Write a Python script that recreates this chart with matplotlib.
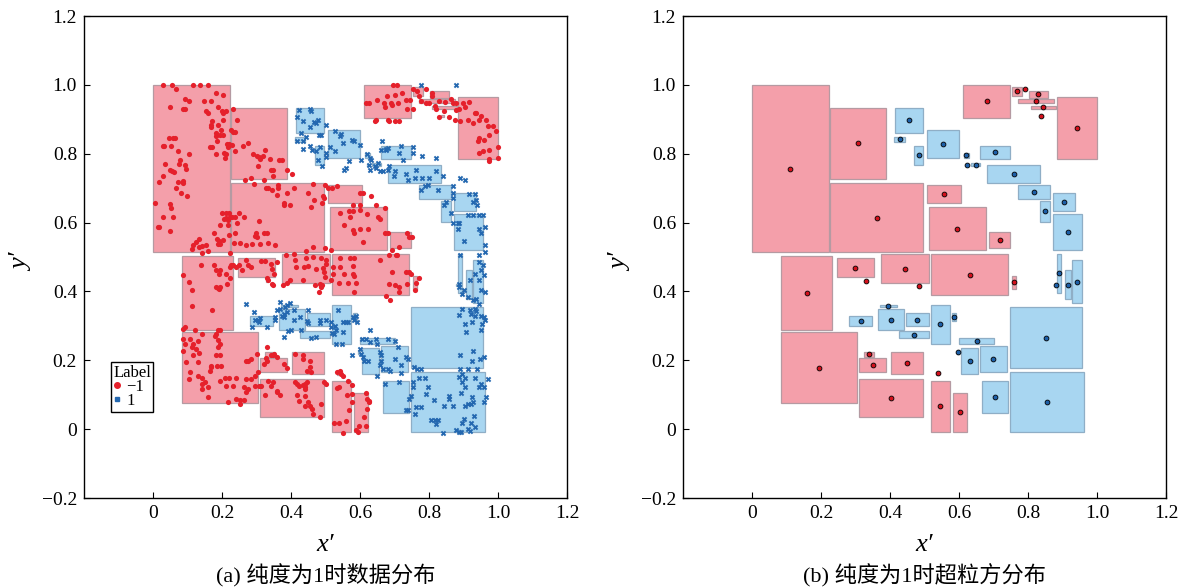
import numpy as np
import matplotlib.pyplot as plt
from matplotlib.patches import Rectangle
from matplotlib.lines import Line2D

plt.rcParams['font.family'] = ['Liberation Serif', 'Noto Sans CJK SC']
plt.rcParams['mathtext.fontset'] = 'stix'

# granular-ball boxes (x0, y0, x1, y1), label -1
neg_boxes = [
    (0.000, 0.514, 0.222, 1.000), (0.227, 0.728, 0.388, 0.934), (0.227, 0.514, 0.496, 0.715),
    (0.507, 0.657, 0.607, 0.709), (0.513, 0.520, 0.678, 0.644), (0.688, 0.525, 0.749, 0.573),
    (0.612, 0.905, 0.748, 1.000), (0.755, 0.969, 0.782, 0.993), (0.787, 0.984, 0.793, 0.990),
    (0.803, 0.963, 0.857, 0.982), (0.771, 0.947, 0.874, 0.958), (0.809, 0.930, 0.880, 0.940),
    (0.834, 0.907, 0.844, 0.913), (0.885, 0.786, 1.000, 0.964), (0.085, 0.289, 0.233, 0.502),
    (0.245, 0.442, 0.354, 0.496), (0.328, 0.428, 0.334, 0.434), (0.375, 0.425, 0.512, 0.508),
    (0.480, 0.413, 0.486, 0.419), (0.518, 0.390, 0.743, 0.508), (0.754, 0.408, 0.765, 0.444),
    (0.085, 0.075, 0.304, 0.283), (0.326, 0.211, 0.354, 0.224), (0.311, 0.166, 0.388, 0.207),
    (0.403, 0.159, 0.497, 0.224), (0.311, 0.034, 0.497, 0.147), (0.534, 0.158, 0.542, 0.166),
    (0.518, -0.007, 0.573, 0.141), (0.583, -0.007, 0.623, 0.105),
]

# granular-ball boxes, label 1
pos_boxes = [
    (0.414, 0.860, 0.497, 0.934), (0.413, 0.834, 0.442, 0.850), (0.469, 0.768, 0.497, 0.822),
    (0.507, 0.787, 0.601, 0.868), (0.614, 0.788, 0.628, 0.803), (0.619, 0.765, 0.625, 0.771),
    (0.635, 0.763, 0.661, 0.774), (0.661, 0.786, 0.749, 0.822), (0.682, 0.715, 0.836, 0.768),
    (0.771, 0.668, 0.864, 0.709), (0.835, 0.602, 0.864, 0.663), (0.873, 0.633, 0.935, 0.685),
    (0.873, 0.519, 0.957, 0.626), (0.370, 0.355, 0.419, 0.360), (0.282, 0.301, 0.349, 0.330),
    (0.364, 0.289, 0.441, 0.348), (0.446, 0.300, 0.512, 0.336), (0.425, 0.265, 0.512, 0.284),
    (0.518, 0.248, 0.573, 0.360), (0.579, 0.315, 0.590, 0.336), (0.601, 0.248, 0.701, 0.265),
    (0.594, 0.218, 0.600, 0.230), (0.606, 0.159, 0.655, 0.236), (0.661, 0.165, 0.738, 0.242),
    (0.667, 0.046, 0.743, 0.140), (0.749, 0.177, 0.957, 0.354), (0.749, -0.007, 0.962, 0.165),
    (0.885, 0.396, 0.897, 0.509), (0.877, 0.417, 0.883, 0.423), (0.907, 0.377, 0.924, 0.461),
    (0.928, 0.365, 0.957, 0.490),
]

# samples with label -1
neg_points = [
    (0.030, 1.0), (0.056, 1.0), (0.116, 1.0), (0.136, 1.0), (0.159, 1.0), (0.066, 0.989),
    (0.182, 0.977), (0.204, 0.970), (0.094, 0.959), (0.105, 0.953), (0.149, 0.954), (0.167, 0.953),
    (0.050, 0.936), (0.087, 0.930), (0.094, 0.930), (0.188, 0.935), (0.154, 0.923), (0.159, 0.917),
    (0.199, 0.924), (0.213, 0.924), (0.203, 0.919), (0.231, 0.930), (0.243, 0.899), (0.171, 0.894),
    (0.167, 0.883), (0.188, 0.883), (0.204, 0.899), (0.169, 0.878), (0.198, 0.870), (0.184, 0.860),
    (0.194, 0.853), (0.225, 0.870), (0.231, 0.864), (0.237, 0.863), (0.203, 0.855), (0.182, 0.851),
    (0.186, 0.836), (0.045, 0.847), (0.059, 0.847), (0.065, 0.847), (0.028, 0.823), (0.033, 0.823),
    (0.051, 0.823), (0.165, 0.819), (0.172, 0.819), (0.214, 0.829), (0.221, 0.829), (0.229, 0.826),
    (0.217, 0.819), (0.274, 0.831), (0.260, 0.823), (0.325, 0.812), (0.072, 0.807), (0.105, 0.800),
    (0.184, 0.800), (0.205, 0.802), (0.213, 0.800), (0.210, 0.787), (0.237, 0.807), (0.291, 0.799),
    (0.301, 0.794), (0.307, 0.790), (0.319, 0.794), (0.309, 0.784), (0.340, 0.786), (0.364, 0.783),
    (0.375, 0.783), (0.078, 0.783), (0.094, 0.768), (0.075, 0.771), (0.035, 0.771), (0.095, 0.755),
    (0.050, 0.753), (0.055, 0.749), (0.062, 0.746), (0.028, 0.736), (0.305, 0.763), (0.341, 0.753),
    (0.348, 0.753), (0.389, 0.753), (0.402, 0.741), (0.347, 0.734), (0.267, 0.724), (0.283, 0.729),
    (0.321, 0.724), (0.016, 0.718), (0.072, 0.718), (0.087, 0.721), (0.087, 0.715), (0.066, 0.700),
    (0.082, 0.687), (0.100, 0.676), (0.006, 0.658), (0.293, 0.712), (0.328, 0.700), (0.333, 0.700),
    (0.346, 0.695), (0.363, 0.710), (0.363, 0.700), (0.408, 0.700), (0.359, 0.680), (0.388, 0.687),
    (0.463, 0.712), (0.450, 0.687), (0.498, 0.710), (0.508, 0.700), (0.520, 0.700), (0.532, 0.705),
    (0.493, 0.678), (0.495, 0.672), (0.467, 0.666), (0.379, 0.658), (0.379, 0.651), (0.397, 0.651),
    (0.457, 0.646), (0.489, 0.658), (0.048, 0.653), (0.053, 0.643), (0.029, 0.617), (0.057, 0.617),
    (0.199, 0.627), (0.213, 0.627), (0.220, 0.627), (0.249, 0.627), (0.239, 0.617), (0.205, 0.610),
    (0.213, 0.613), (0.217, 0.608), (0.223, 0.617), (0.229, 0.617), (0.265, 0.617), (0.194, 0.593),
    (0.216, 0.593), (0.244, 0.600), (0.307, 0.606), (0.014, 0.588), (0.018, 0.588), (0.050, 0.575),
    (0.298, 0.569), (0.321, 0.571), (0.331, 0.571), (0.295, 0.561), (0.302, 0.559), (0.220, 0.564),
    (0.237, 0.571), (0.176, 0.569), (0.186, 0.551), (0.191, 0.547), (0.188, 0.537), (0.194, 0.537),
    (0.203, 0.549), (0.132, 0.551), (0.126, 0.543), (0.116, 0.535), (0.134, 0.530), (0.141, 0.532),
    (0.155, 0.535), (0.142, 0.512), (0.158, 0.517), (0.235, 0.542), (0.252, 0.540), (0.271, 0.535),
    (0.288, 0.538), (0.311, 0.537), (0.334, 0.540), (0.353, 0.535), (0.463, 0.528), (0.443, 0.517),
    (0.385, 0.506), (0.409, 0.510), (0.112, 0.523), (0.223, 0.512), (0.499, 0.525), (0.517, 0.520),
    # upper right
    (0.695, 1.0), (0.708, 1.0), (0.678, 0.967), (0.700, 0.972), (0.721, 0.977), (0.648, 0.955),
    (0.616, 0.948), (0.626, 0.948), (0.669, 0.948), (0.689, 0.948), (0.732, 0.955), (0.746, 0.955),
    (0.672, 0.935), (0.692, 0.941), (0.711, 0.948), (0.737, 0.930), (0.753, 0.930), (0.647, 0.899),
    (0.642, 0.894), (0.681, 0.897), (0.685, 0.894), (0.700, 0.894), (0.712, 0.896),
    (0.753, 0.989), (0.765, 0.982), (0.772, 0.967), (0.792, 0.987), (0.808, 0.977), (0.809, 0.967),
    (0.777, 0.953), (0.792, 0.946), (0.801, 0.948), (0.816, 0.940), (0.830, 0.953), (0.864, 0.959),
    (0.869, 0.948), (0.878, 0.946), (0.845, 0.950), (0.821, 0.930), (0.842, 0.923), (0.878, 0.928),
    (0.888, 0.930), (0.830, 0.907), (0.859, 0.907), (0.874, 0.899), (0.891, 0.894),
    (0.898, 0.948), (0.915, 0.950), (0.903, 0.936), (0.932, 0.919), (0.936, 0.919), (0.951, 0.909),
    (0.912, 0.899), (0.946, 0.899), (0.927, 0.889), (0.965, 0.899), (0.970, 0.880), (0.985, 0.880),
    (0.994, 0.865), (0.975, 0.855), (0.944, 0.846), (0.942, 0.836), (0.959, 0.841), (0.973, 0.812),
    (0.956, 0.807), (0.944, 0.802), (0.973, 0.784), (0.973, 0.778), (1.0, 0.787), (1.0, 0.821),
    # middle right
    (0.599, 0.687), (0.608, 0.687), (0.632, 0.676), (0.581, 0.651), (0.599, 0.651), (0.647, 0.651),
    (0.672, 0.642), (0.567, 0.635), (0.581, 0.635), (0.601, 0.637), (0.620, 0.625), (0.543, 0.627),
    (0.570, 0.617), (0.652, 0.615), (0.657, 0.610), (0.555, 0.593), (0.599, 0.580), (0.623, 0.580),
    (0.584, 0.571), (0.581, 0.578), (0.673, 0.569), (0.682, 0.571), (0.610, 0.544), (0.737, 0.569),
    (0.743, 0.557), (0.751, 0.557), (0.714, 0.530), (0.692, 0.520), (0.707, 0.506),
    # lower left
    (0.139, 0.476), (0.176, 0.476), (0.182, 0.463), (0.194, 0.463), (0.223, 0.471), (0.227, 0.476),
    (0.192, 0.452), (0.213, 0.452), (0.224, 0.440), (0.087, 0.447), (0.105, 0.427), (0.182, 0.413),
    (0.189, 0.411), (0.192, 0.408), (0.194, 0.413), (0.215, 0.423), (0.114, 0.403), (0.112, 0.359),
    (0.170, 0.347), (0.087, 0.291), (0.092, 0.296), (0.121, 0.287), (0.187, 0.287), (0.194, 0.287),
    (0.182, 0.277),
    (0.271, 0.491), (0.314, 0.489), (0.324, 0.489), (0.249, 0.476), (0.274, 0.476), (0.283, 0.471),
    (0.257, 0.463), (0.341, 0.481), (0.358, 0.486), (0.346, 0.466), (0.351, 0.452), (0.331, 0.440),
    (0.334, 0.432), (0.345, 0.423), (0.348, 0.418), (0.242, 0.471), (0.232, 0.476),
    (0.443, 0.496), (0.464, 0.500), (0.488, 0.496), (0.500, 0.491), (0.502, 0.481), (0.411, 0.491),
    (0.414, 0.471), (0.438, 0.471), (0.449, 0.473), (0.473, 0.466), (0.493, 0.469), (0.496, 0.457),
    (0.498, 0.442), (0.483, 0.423), (0.491, 0.418), (0.396, 0.434), (0.435, 0.434), (0.486, 0.413),
    (0.469, 0.418), (0.480, 0.398), (0.377, 0.418), (0.387, 0.425), (0.522, 0.471), (0.522, 0.452),
    (0.517, 0.432),
    (0.087, 0.262), (0.107, 0.262), (0.092, 0.248), (0.116, 0.248), (0.131, 0.257), (0.143, 0.275),
    (0.112, 0.238), (0.126, 0.233), (0.179, 0.272), (0.189, 0.259), (0.194, 0.248), (0.187, 0.238),
    (0.116, 0.214), (0.134, 0.220), (0.184, 0.214), (0.097, 0.194), (0.131, 0.194), (0.169, 0.184),
    (0.169, 0.180), (0.186, 0.182), (0.198, 0.182), (0.165, 0.170), (0.107, 0.165), (0.131, 0.155),
    (0.143, 0.150), (0.150, 0.136), (0.160, 0.121), (0.160, 0.092), (0.141, 0.131), (0.208, 0.150),
    (0.221, 0.150), (0.194, 0.141), (0.232, 0.126), (0.242, 0.150), (0.213, 0.126), (0.271, 0.199),
    (0.276, 0.199), (0.285, 0.204), (0.300, 0.218), (0.305, 0.165), (0.295, 0.155), (0.285, 0.146),
    (0.271, 0.146), (0.263, 0.121), (0.276, 0.116), (0.295, 0.126), (0.307, 0.126), (0.312, 0.126),
    (0.271, 0.107), (0.242, 0.087), (0.252, 0.084), (0.263, 0.084), (0.253, 0.073), (0.218, 0.080),
    (0.143, 0.116), (0.105, 0.146), (0.087, 0.228), (0.194, 0.214),
    (0.331, 0.238), (0.341, 0.214), (0.351, 0.218), (0.358, 0.209), (0.327, 0.207), (0.321, 0.189),
    (0.329, 0.199), (0.379, 0.189), (0.387, 0.177), (0.348, 0.214),
    (0.413, 0.218), (0.435, 0.214), (0.435, 0.204), (0.456, 0.197), (0.456, 0.180), (0.457, 0.165),
    (0.445, 0.168),
    (0.332, 0.141), (0.348, 0.136), (0.343, 0.126), (0.324, 0.099), (0.358, 0.112), (0.367, 0.099),
    (0.411, 0.136), (0.416, 0.131), (0.423, 0.126), (0.435, 0.129), (0.440, 0.131), (0.440, 0.121),
    (0.445, 0.136), (0.442, 0.116), (0.416, 0.099), (0.423, 0.082), (0.449, 0.080), (0.440, 0.068),
    (0.454, 0.068), (0.461, 0.058), (0.464, 0.045), (0.483, 0.034), (0.486, 0.073), (0.496, 0.136),
    (0.500, 0.131), (0.358, 0.107), (0.440, 0.097),
    # lower middle
    (0.541, 0.498), (0.570, 0.498), (0.584, 0.498), (0.541, 0.471), (0.581, 0.473), (0.581, 0.450),
    (0.584, 0.444), (0.555, 0.452), (0.539, 0.425), (0.565, 0.425), (0.587, 0.425), (0.584, 0.398),
    (0.657, 0.491), (0.685, 0.505), (0.705, 0.505), (0.693, 0.457), (0.685, 0.423), (0.700, 0.418),
    (0.714, 0.413), (0.714, 0.398), (0.736, 0.423), (0.732, 0.457), (0.743, 0.457), (0.748, 0.452),
    (0.758, 0.403), (0.763, 0.425), (0.770, 0.440), (0.676, 0.386), (0.688, 0.374),
    (0.541, 0.170), (0.533, 0.165), (0.544, 0.160), (0.550, 0.155), (0.565, 0.139), (0.577, 0.129),
    (0.539, 0.123), (0.533, 0.119), (0.562, 0.100), (0.577, 0.078), (0.568, 0.055), (0.560, 0.024),
    (0.539, 0.019), (0.526, 0.019), (0.550, -0.010), (0.577, 0.102),
    (0.616, 0.104), (0.620, 0.087), (0.626, 0.082), (0.620, 0.058), (0.613, 0.034), (0.596, 0.010),
    (0.616, 0.010), (0.589, -0.003), (0.594, -0.008), (0.626, 0.078),
]

# samples with label 1
pos_points = [
    (0.777, 1.0), (0.877, 1.0),
    (0.423, 0.926), (0.456, 0.930), (0.457, 0.923), (0.417, 0.907), (0.435, 0.894), (0.467, 0.892),
    (0.478, 0.899), (0.471, 0.889), (0.456, 0.877), (0.500, 0.883), (0.428, 0.860), (0.444, 0.848),
    (0.481, 0.853), (0.488, 0.853), (0.417, 0.836), (0.436, 0.836), (0.434, 0.814), (0.456, 0.823),
    (0.461, 0.812), (0.483, 0.819), (0.473, 0.807), (0.500, 0.802), (0.500, 0.790), (0.478, 0.783),
    (0.490, 0.765),
    (0.528, 0.865), (0.541, 0.851), (0.546, 0.858), (0.550, 0.831), (0.512, 0.819), (0.528, 0.807),
    (0.577, 0.841), (0.584, 0.836), (0.599, 0.826), (0.603, 0.783), (0.567, 0.778), (0.560, 0.760),
    (0.555, 0.753),
    (0.664, 0.836), (0.661, 0.812), (0.674, 0.812), (0.676, 0.815), (0.681, 0.817), (0.719, 0.823),
    (0.714, 0.802), (0.753, 0.819), (0.753, 0.802), (0.726, 0.783), (0.780, 0.794), (0.819, 0.787),
    (0.620, 0.799), (0.628, 0.787), (0.632, 0.783), (0.626, 0.768), (0.628, 0.753), (0.642, 0.763),
    (0.647, 0.758), (0.657, 0.749), (0.666, 0.749), (0.653, 0.773), (0.685, 0.765), (0.681, 0.753),
    (0.700, 0.749), (0.698, 0.736), (0.734, 0.742), (0.739, 0.724), (0.763, 0.753), (0.760, 0.729),
    (0.780, 0.729), (0.801, 0.729), (0.821, 0.749), (0.840, 0.734), (0.891, 0.729), (0.903, 0.724),
    (0.796, 0.710), (0.787, 0.705), (0.777, 0.695), (0.825, 0.695), (0.869, 0.705), (0.869, 0.687),
    (0.869, 0.671), (0.850, 0.661), (0.842, 0.651), (0.864, 0.629), (0.869, 0.600), (0.883, 0.600),
    (0.888, 0.598), (0.917, 0.682), (0.932, 0.683), (0.927, 0.661), (0.936, 0.666), (0.939, 0.651),
    (0.912, 0.622), (0.927, 0.622), (0.946, 0.622), (0.956, 0.622), (0.962, 0.588), (0.946, 0.580),
    (0.951, 0.569), (0.883, 0.580), (0.901, 0.546), (0.962, 0.535), (0.962, 0.515), (0.891, 0.506),
    (0.944, 0.506),
    (0.271, 0.364), (0.292, 0.340), (0.305, 0.318), (0.309, 0.323), (0.295, 0.316), (0.307, 0.311),
    (0.288, 0.298), (0.331, 0.298), (0.353, 0.327), (0.353, 0.316), (0.369, 0.369), (0.358, 0.347),
    (0.367, 0.350), (0.382, 0.355), (0.387, 0.362), (0.396, 0.366), (0.408, 0.347), (0.387, 0.340),
    (0.379, 0.335), (0.375, 0.330), (0.379, 0.325), (0.408, 0.316), (0.427, 0.325), (0.449, 0.347),
    (0.445, 0.314), (0.449, 0.308), (0.430, 0.287), (0.401, 0.289), (0.391, 0.285), (0.379, 0.267),
    (0.459, 0.265), (0.473, 0.267), (0.483, 0.316), (0.485, 0.308), (0.502, 0.318), (0.517, 0.311),
    (0.517, 0.296), (0.527, 0.301), (0.531, 0.287), (0.520, 0.279), (0.524, 0.275), (0.531, 0.248),
    (0.536, 0.345),
    (0.886, 0.423), (0.888, 0.413), (0.900, 0.403), (0.896, 0.393), (0.912, 0.384), (0.919, 0.434),
    (0.932, 0.452), (0.946, 0.486), (0.956, 0.476), (0.951, 0.462), (0.958, 0.447), (0.944, 0.434),
    (0.951, 0.405), (0.963, 0.398), (0.927, 0.374), (0.936, 0.379), (0.944, 0.364),
    (0.934, 0.350), (0.936, 0.343), (0.896, 0.350), (0.919, 0.345), (0.922, 0.335), (0.888, 0.333),
    (0.932, 0.330), (0.951, 0.330), (0.960, 0.327), (0.963, 0.316), (0.925, 0.311), (0.903, 0.306),
    (0.907, 0.282), (0.954, 0.304), (0.951, 0.287), (0.927, 0.228), (0.925, 0.199), (0.948, 0.204),
    (0.960, 0.209), (0.890, 0.214), (0.756, 0.180), (0.766, 0.175), (0.777, 0.175), (0.890, 0.175),
    (0.912, 0.175), (0.939, 0.175),
    (0.896, 0.160), (0.886, 0.152), (0.770, 0.150), (0.787, 0.150), (0.753, 0.136), (0.753, 0.121),
    (0.748, 0.097), (0.763, 0.063), (0.777, 0.063), (0.758, 0.045), (0.734, 0.055), (0.739, 0.055),
    (0.714, 0.138), (0.671, 0.131), (0.796, 0.123), (0.792, 0.102), (0.814, 0.084), (0.859, 0.097),
    (0.857, 0.087), (0.843, 0.068), (0.869, 0.068), (0.893, 0.104), (0.903, 0.121), (0.896, 0.136),
    (0.905, 0.148), (0.934, 0.150), (0.951, 0.131), (0.946, 0.121), (0.958, 0.121), (0.965, 0.094),
    (0.970, 0.146), (0.925, 0.092), (0.922, 0.073), (0.912, 0.073), (0.927, 0.078), (0.905, 0.066),
    (0.958, 0.080), (0.929, 0.039), (0.901, 0.029), (0.896, 0.019), (0.923, 0.019), (0.932, 0.005),
    (0.912, 0.000), (0.919, -0.005), (0.878, -0.003), (0.888, -0.008), (0.893, -0.008), (0.840, -0.010),
    (0.806, 0.026), (0.816, 0.026), (0.825, 0.026), (0.819, 0.014), (0.741, 0.087),
    (0.606, 0.262), (0.616, 0.262), (0.647, 0.262), (0.629, 0.253), (0.649, 0.248), (0.681, 0.262),
    (0.700, 0.257), (0.710, 0.240), (0.599, 0.233), (0.603, 0.218), (0.608, 0.209), (0.613, 0.197),
    (0.623, 0.197), (0.577, 0.214), (0.628, 0.287), (0.550, 0.311), (0.565, 0.311), (0.560, 0.311),
    (0.589, 0.330), (0.584, 0.316), (0.592, 0.311), (0.581, 0.327), (0.550, 0.282), (0.548, 0.246),
    (0.657, 0.223), (0.661, 0.214), (0.659, 0.187), (0.666, 0.175), (0.681, 0.175), (0.688, 0.168),
    (0.700, 0.204), (0.719, 0.186), (0.732, 0.209), (0.740, 0.204), (0.719, 0.162), (0.649, 0.155),
    (0.661, 0.199),
]

x_ticks = [0, 0.2, 0.4, 0.6, 0.8, 1.0, 1.2]
y_ticks = [-0.2, 0, 0.2, 0.4, 0.6, 0.8, 1.0, 1.2]
captions = ['(a) 纯度为1时数据分布', '(b) 纯度为1时超粒方分布']

RED = '#e5202b'
BLUE = '#2468b0'
PINK = '#f49faa'
SKY = '#a8d6f1'


def fmt(v):
    if v == 0:
        return '0'
    return f'{v:.1f}'.replace('-', '\u2212')


def setup(ax):
    ax.set_xlim(-0.2, 1.2)
    ax.set_ylim(-0.2, 1.2)
    ax.set_xticks(x_ticks)
    ax.set_xticklabels([fmt(v) for v in x_ticks])
    ax.set_yticks(y_ticks)
    ax.set_yticklabels([fmt(v) for v in y_ticks])
    ax.tick_params(direction='in', length=4, width=0.8, labelsize=14, pad=5)
    for s in ax.spines.values():
        s.set_linewidth(1.0)


def draw_boxes(ax):
    for x0, y0, x1, y1 in neg_boxes:
        ax.add_patch(Rectangle((x0, y0), x1 - x0, y1 - y0, fc=PINK, ec='#b59aa2', lw=0.9, zorder=1))
    for x0, y0, x1, y1 in pos_boxes:
        ax.add_patch(Rectangle((x0, y0), x1 - x0, y1 - y0, fc=SKY, ec='#8faec6', lw=0.9, zorder=1))


fig = plt.figure(figsize=(11.93, 5.87), dpi=100)
ax1 = fig.add_axes([0.0704, 0.1516, 0.4049, 0.8211])
ax2 = fig.add_axes([0.5725, 0.1516, 0.4049, 0.8211])

# (a) data points inside the boxes
draw_boxes(ax1)
neg = np.array(neg_points)
pos = np.array(pos_points)
ax1.scatter(neg[:, 0], neg[:, 1], s=14, c=RED, marker='o', linewidths=0, zorder=3)
ax1.scatter(pos[:, 0], pos[:, 1], s=16, c=BLUE, marker='X', linewidths=0, zorder=3)
handles = [Line2D([], [], ls='', marker='o', color=RED, markersize=4, label='\u22121'),
           Line2D([], [], ls='', marker='s', color=BLUE, markersize=3, label='1')]
leg = ax1.legend(handles=handles, title='Label', loc='upper left', bbox_to_anchor=(0.055, 0.282),
                 fontsize=12, title_fontsize=12, frameon=True, fancybox=False, edgecolor='black',
                 handlelength=0.5, handletextpad=0.3, borderpad=0.15, labelspacing=-0.1,
                 borderaxespad=0, framealpha=1)
leg.get_frame().set_linewidth(1.0)
leg._legend_box.align = 'left'

# (b) box centres
draw_boxes(ax2)
nb = np.array(neg_boxes)
pb = np.array(pos_boxes)
ax2.scatter((nb[:, 0] + nb[:, 2]) / 2, (nb[:, 1] + nb[:, 3]) / 2, s=12, c='#d4101c',
            edgecolors='black', linewidths=0.6, zorder=3)
ax2.scatter((pb[:, 0] + pb[:, 2]) / 2, (pb[:, 1] + pb[:, 3]) / 2, s=12, c='#1c5fa8',
            edgecolors='black', linewidths=0.6, zorder=3)

for ax, cap in zip([ax1, ax2], captions):
    setup(ax)
    p = ax.get_position()
    xc = (p.x0 + p.x1) / 2
    fig.text(xc, 1 - 545 / 587, 'x\u2032', fontsize=19, fontstyle='italic', ha='center', va='center')
    fig.text(p.x0 - 62 / 1193, 1 - 262 / 587, 'y\u2032', fontsize=19, fontstyle='italic',
             ha='center', va='center', rotation=90)
    fig.text(xc, 1 - 576 / 587, cap, fontsize=16, ha='center', va='center')

fig.savefig('out.png', dpi=100)
